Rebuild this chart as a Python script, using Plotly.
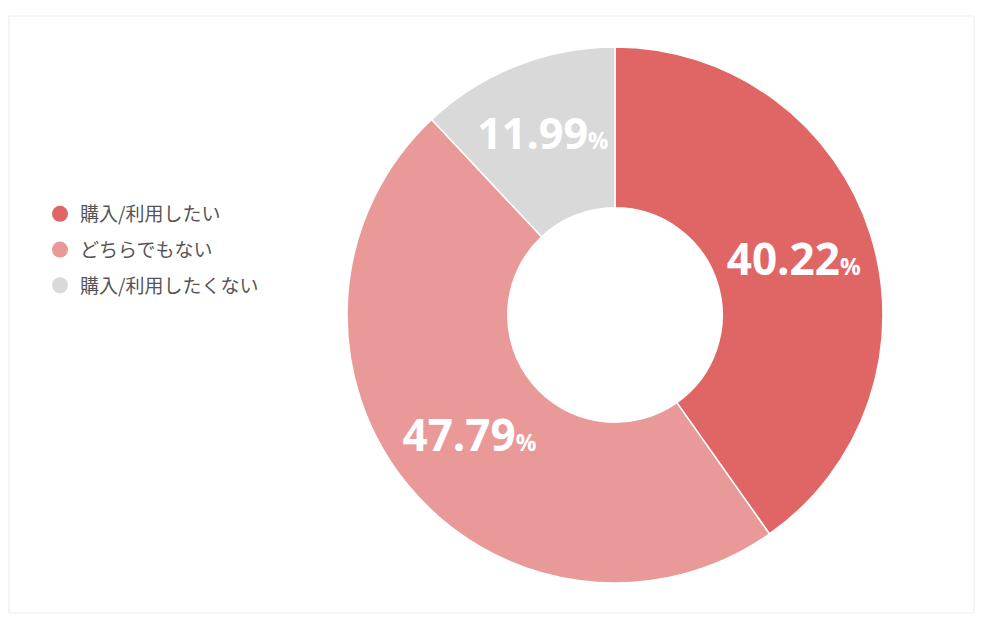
import plotly.graph_objects as go

labels = ["購入/利用したい", "どちらでもない", "購入/利用したくない"]
values = [40.22, 47.79, 11.99]
colors = ["#E06666", "#EA9999", "#D9D9D9"]

W, H = 985, 626
cx, r = 607, 268
T, B = 39, 51
PH = H - T - B

fig = go.Figure()
fig.add_trace(go.Pie(
    labels=labels, values=values, sort=False, direction="clockwise", rotation=0,
    hole=0.4,
    marker=dict(colors=colors, line=dict(color="white", width=1.5)),
    texttemplate="%{value:.2f}<span style='font-size:23px'>%</span>",
    textposition="inside", insidetextorientation="horizontal",
    textfont=dict(family="Open Sans", size=44, color="white", weight="bold"),
    showlegend=False, hoverinfo="label+value",
    domain=dict(x=[(cx - r) / W, (cx + r) / W], y=[0, 1]),
))
for lab, col in zip(labels, colors):
    fig.add_trace(go.Scatter(
        x=[None], y=[None], mode="markers", name=lab, legendgroup=lab,
        marker=dict(symbol="circle", size=18, color=col),
    ))

fig.update_layout(
    width=W, height=H,
    margin=dict(l=0, r=0, t=T, b=B),
    paper_bgcolor="white", plot_bgcolor="white",
    xaxis=dict(visible=False), yaxis=dict(visible=False),
    legend=dict(x=32 / W, xanchor="left", y=(H - B - 242) / PH, yanchor="middle",
                font=dict(family="Noto Sans CJK JP", size=19, color="#555"),
                tracegroupgap=8, bgcolor="rgba(0,0,0,0)"),
    shapes=[dict(type="rect", xref="paper", yref="paper",
                 x0=1 / W, x1=966 / W,
                 y0=(H - B - 605) / PH, y1=(H - B - 8) / PH,
                 line=dict(color="#EBEBEB", width=1))],
)
fig.write_html("out.html")
